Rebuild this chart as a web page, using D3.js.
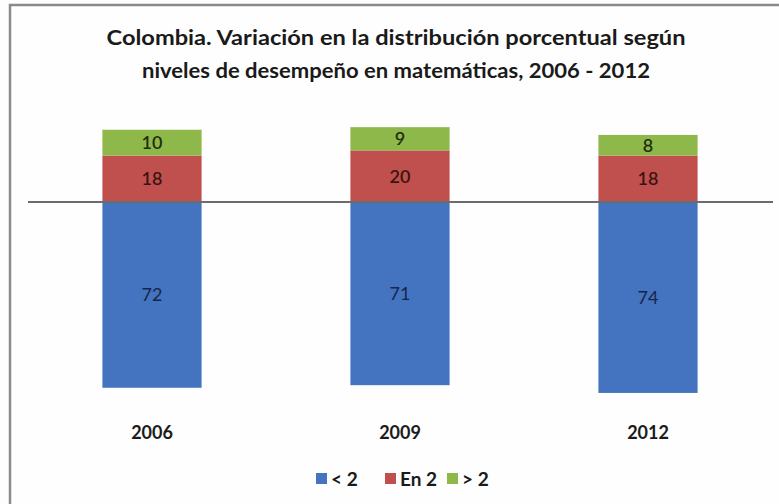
<!DOCTYPE html>
<html>
<head>
<meta charset="utf-8">
<script src="https://cdn.jsdelivr.net/npm/d3@7"></script>
<style>
  body { margin: 0; background: #fdfdfd; }
  svg { display: block; }
</style>
</head>
<body>
<script>
// chart data
var years = ["2006", "2009", "2012"];
var below2 = [72, 71, 74];   // < 2
var level2 = [18, 20, 18];   // En 2
var above2 = [10, 9, 8];     // > 2
var seriesNames = ["< 2", "En 2", "> 2"];
var seriesColors = ["#4473c0", "#c0504d", "#8fb84a"];

var svgWidth = 779;
var svgHeight = 504;
var font = "Lato, 'Open Sans', 'DejaVu Sans', sans-serif";

var svg = d3.select("body")
  .append("svg")
    .attr("width", svgWidth)
    .attr("height", svgHeight);

// frame (only top and left edges visible in the crop)
svg.append("rect")
  .attr("x", 10)
  .attr("y", 5)
  .attr("width", 800)
  .attr("height", 520)
  .style("fill", "#fefefe")
  .style("stroke", "#8a8a8a")
  .style("stroke-width", 2.5);

// title
var title = ["Colombia. Variación en la distribución porcentual según",
             "niveles de desempeño en matemáticas, 2006 - 2012"];
svg.selectAll(".title")
  .data(title)
  .enter()
  .append("text")
    .attr("class", "title")
    .attr("x", 396)
    .attr("y", function(d, i) { return 45 + i * 33; })
    .attr("text-anchor", "middle")
    .style("font-family", font)
    .style("font-weight", "bold")
    .style("font-size", "21px")
    .style("fill", "#1a1a1a")
    .attr("textLength", function(d, i) { return i === 0 ? 579 : 508; })
    .attr("lengthAdjust", "spacingAndGlyphs")
    .text(function(d) { return d; });

// scales
var xScale = d3.scaleBand()
  .domain(years)
  .range([28, 772])
  .paddingInner(0.6)
  .paddingOuter(0.3);

var yScale = d3.scaleLinear()
  .domain([-80, 40])
  .range([202 + 80 * 2.58, 202 - 40 * 2.58]);

// build stacked segments: blue below zero, red and green above
var segments = [];
years.forEach(function(yr, i) {
  segments.push({ year: yr, y0: -below2[i], y1: 0, value: below2[i], s: 0 });
  segments.push({ year: yr, y0: 0, y1: level2[i], value: level2[i], s: 1 });
  segments.push({ year: yr, y0: level2[i], y1: level2[i] + above2[i], value: above2[i], s: 2 });
});

svg.selectAll(".bar")
  .data(segments)
  .enter()
  .append("rect")
    .attr("class", "bar")
    .attr("x", function(d) { return xScale(d.year); })
    .attr("width", xScale.bandwidth())
    .attr("y", function(d) { return yScale(d.y1); })
    .attr("height", function(d) { return yScale(d.y0) - yScale(d.y1); })
    .style("fill", function(d) { return seriesColors[d.s]; });

// value labels
svg.selectAll(".val")
  .data(segments)
  .enter()
  .append("text")
    .attr("class", "val")
    .attr("x", function(d) { return xScale(d.year) + xScale.bandwidth() / 2; })
    .attr("y", function(d) { return (yScale(d.y0) + yScale(d.y1)) / 2; })
    .attr("dy", "0.36em")
    .attr("text-anchor", "middle")
    .style("font-family", font)
    .style("font-size", "18px")
    .style("font-weight", function(d) { return d.s === 0 ? "normal" : "600"; })
    .style("fill", function(d) { return ["#16264a", "#3a1412", "#1f2e0c"][d.s]; })
    .text(function(d) { return d.value; });

// zero line
svg.append("line")
  .attr("x1", 28)
  .attr("x2", 773)
  .attr("y1", yScale(0))
  .attr("y2", yScale(0))
  .style("stroke", "#6b6b6b")
  .style("stroke-width", 2);

// year labels
var xAxis = d3.axisBottom(xScale).tickSize(0).tickPadding(0);
var axisG = svg.append("g")
  .attr("transform", "translate(0, 426)")
  .call(xAxis);
axisG.select(".domain").remove();
axisG.selectAll("text")
  .style("font-family", font)
  .style("font-size", "18px")
  .style("font-weight", "bold")
  .style("fill", "#1a1a1a");

// legend
var legendX = [316, 385, 447];
var legend = svg.selectAll(".legend")
  .data(seriesNames)
  .enter()
  .append("g")
    .attr("class", "legend")
    .attr("transform", function(d, i) { return "translate(" + legendX[i] + ", 479)"; });

legend.append("rect")
  .attr("x", 0)
  .attr("y", -6)
  .attr("width", 11)
  .attr("height", 11)
  .style("fill", function(d, i) { return seriesColors[i]; });

legend.append("text")
  .attr("x", 15)
  .attr("y", 0)
  .attr("dy", "0.36em")
  .style("font-family", font)
  .style("font-size", "19px")
  .style("font-weight", "bold")
  .style("fill", "#1a1a1a")
  .text(function(d) { return d; });
</script>
</body>
</html>
